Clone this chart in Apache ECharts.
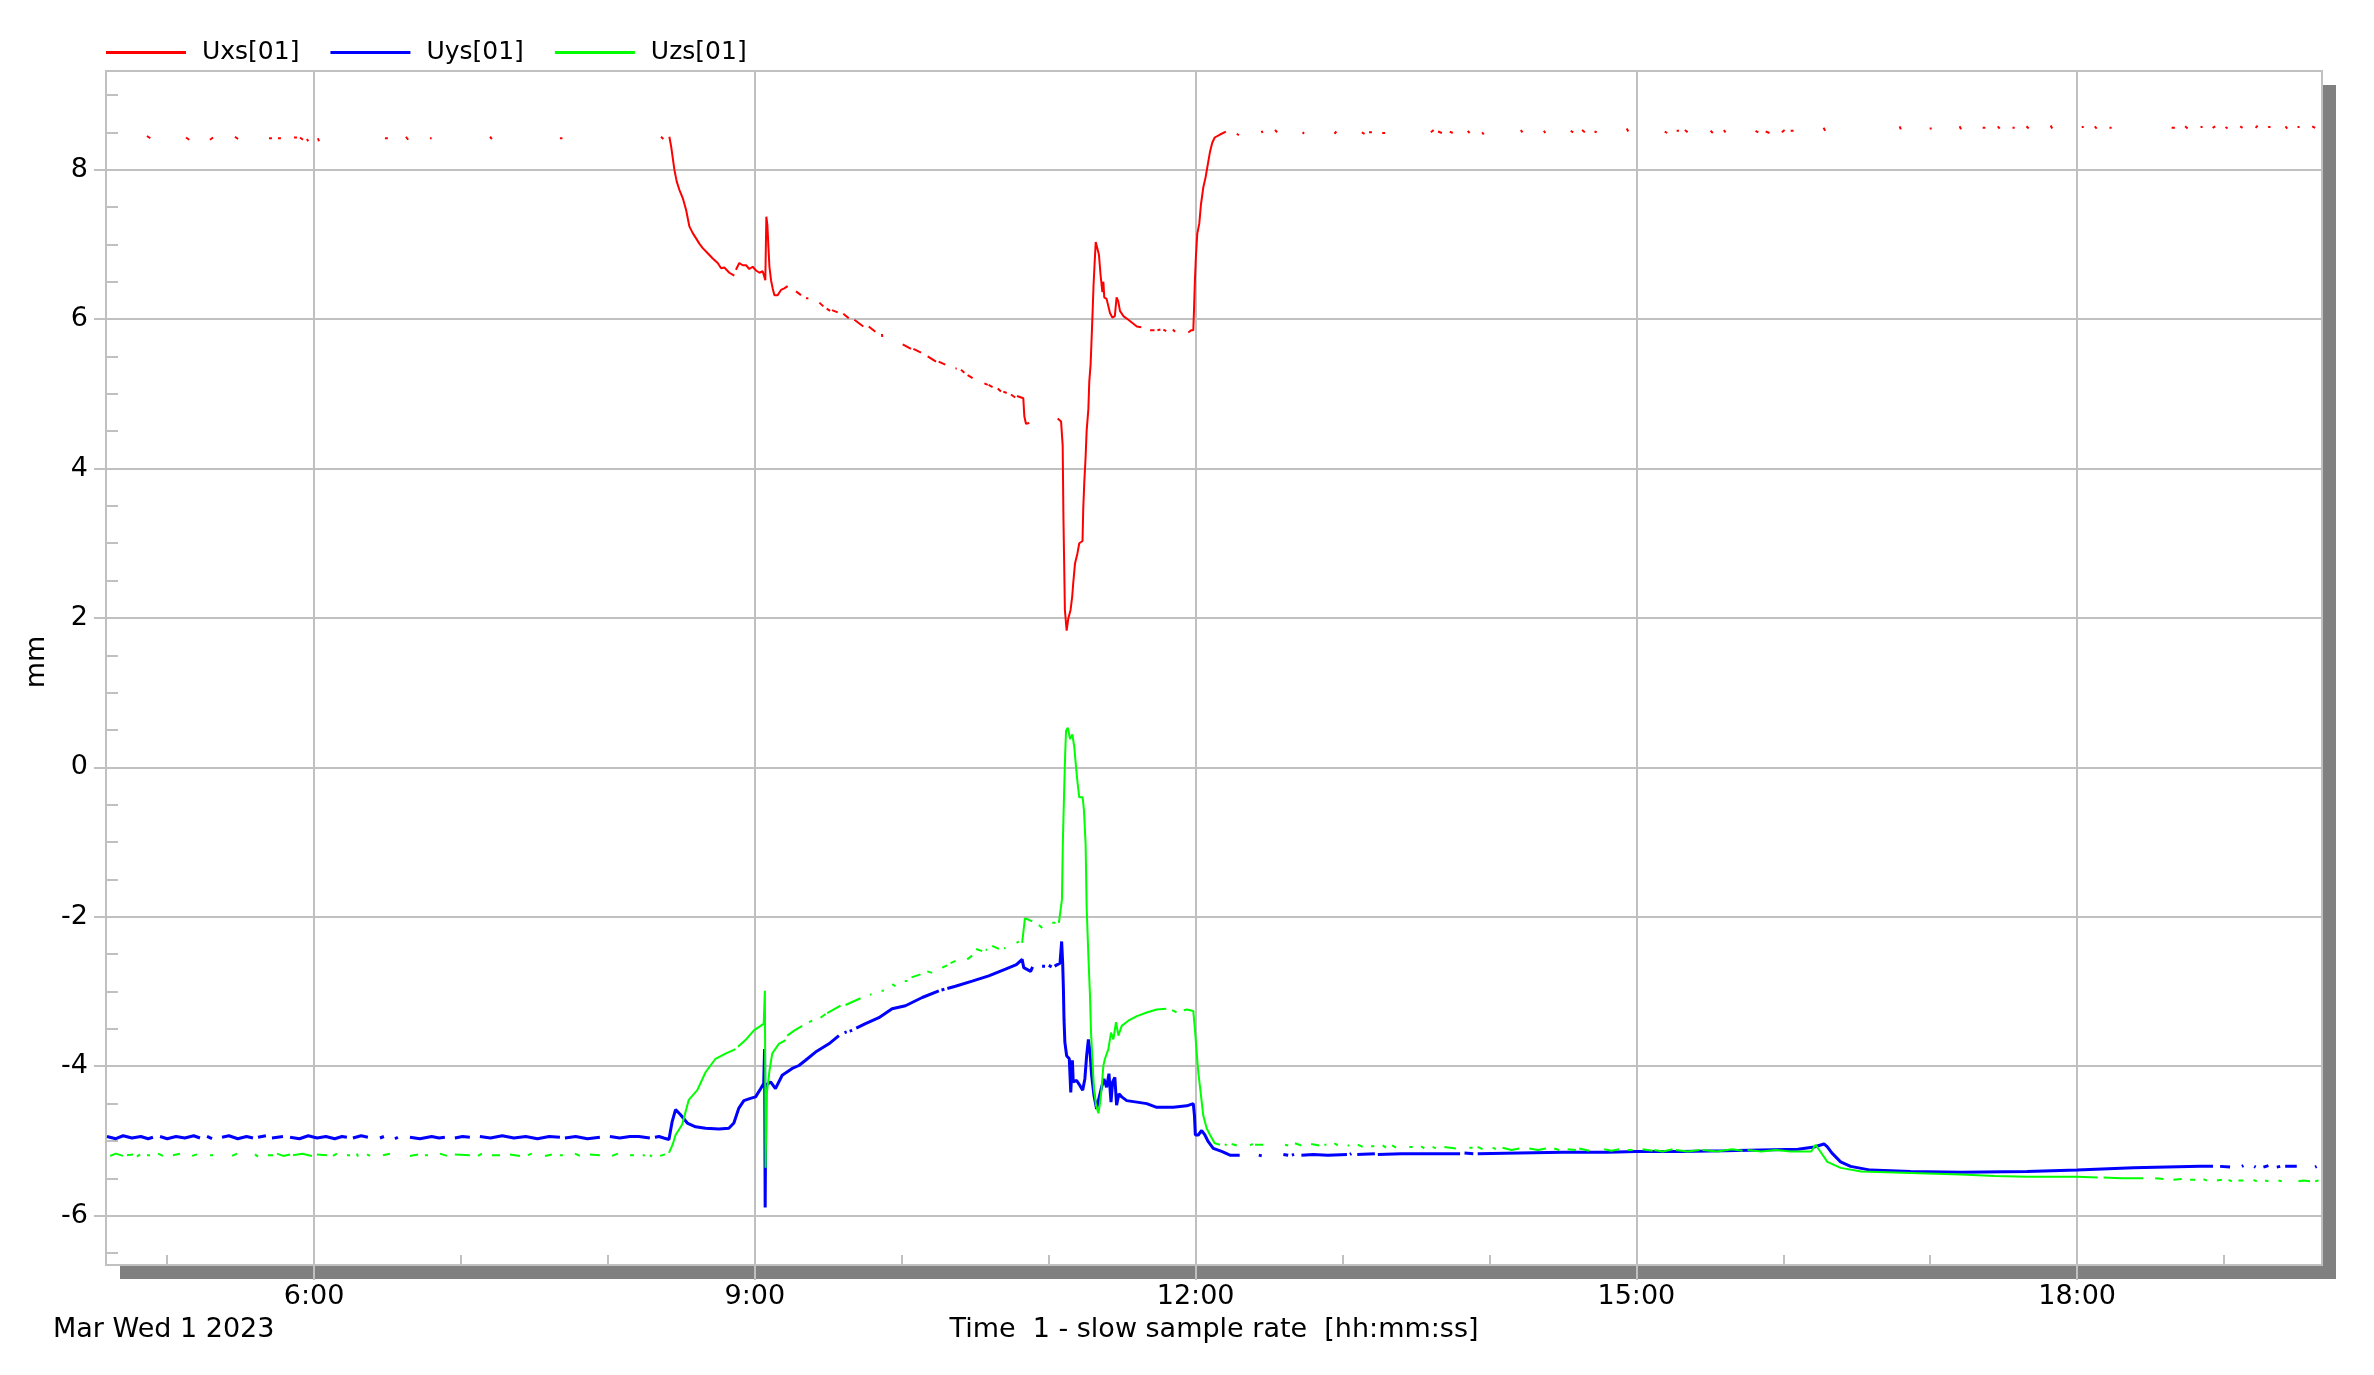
<!DOCTYPE html>
<html>
<head>
<meta charset="utf-8">
<script src="https://cdn.jsdelivr.net/npm/echarts@6.0.0/dist/echarts.min.js"></script>
<style>
html,body{margin:0;padding:0;background:#fff;}
#chart{width:2374px;height:1375px;}
</style>
</head>
<body>
<div id="chart"></div>
<script>
// ---- axis ranges (hours of day / mm) ----
const X_MIN = 4 + 35 / 60;
const X_MAX = 19 + 40 / 60;
const Y_MIN = -6.66;
const Y_MAX = 9.32;

// ---- tick labels ----
const xMajorTicks = [6, 9, 12, 15, 18];
const xMinorTicks = [5, 7, 8, 10, 11, 13, 14, 16, 17, 19];
const yMajorTicks = [-6, -4, -2, 0, 2, 4, 6, 8];
const yMinorTicks = [-6.5, -5.5, -5, -4.5, -3.5, -3, -2.5, -1.5, -1, -0.5, 0.5, 1, 1.5, 2.5, 3, 3.5, 4.5, 5, 5.5, 6.5, 7, 7.5, 8.5, 9];

const seriesNames = ['Uxs[01]', 'Uys[01]', 'Uzs[01]'];
const xTitle = 'Time  1 - slow sample rate  [hh:mm:ss]';
const dateText = 'Mar Wed 1 2023';

// ---- series values: each segment = [time(h), value, time, value, ...]; gaps between segments ----
const uxsSegments = [
  [4.862,8.45, 4.885,8.42],
  [5.128,8.43, 5.150,8.40],
  [5.291,8.40, 5.312,8.43],
  [5.461,8.44, 5.482,8.41],
  [5.693,8.42, 5.713,8.42],
  [5.754,8.42, 5.774,8.42],
  [5.863,8.43, 5.883,8.43],
  [5.904,8.43, 5.924,8.40],
  [5.951,8.41, 5.960,8.38],
  [6.026,8.42, 6.033,8.38],
  [6.482,8.42, 6.502,8.42],
  [6.625,8.44, 6.640,8.40],
  [6.788,8.42, 6.800,8.42],
  [7.197,8.44, 7.210,8.41],
  [7.673,8.42, 7.690,8.42],
  [8.361,8.44, 8.377,8.41],
  [8.418,8.44, 8.430,8.31, 8.452,8.00, 8.468,7.84, 8.486,7.73, 8.509,7.62, 8.532,7.46, 8.554,7.24, 8.577,7.15, 8.600,7.08, 8.622,7.01, 8.645,6.95, 8.679,6.88, 8.713,6.81, 8.747,6.75, 8.770,6.68, 8.792,6.69, 8.826,6.62, 8.860,6.58],
  [8.871,6.66, 8.894,6.75, 8.917,6.72, 8.940,6.72, 8.962,6.67, 8.985,6.70, 9.008,6.65, 9.031,6.62, 9.053,6.64, 9.071,6.52, 9.078,7.37, 9.085,7.26, 9.092,6.97, 9.099,6.70, 9.110,6.52, 9.121,6.41, 9.133,6.32, 9.155,6.32, 9.178,6.39, 9.200,6.41, 9.223,6.44],
  [9.280,6.37, 9.314,6.32],
  [9.348,6.28, 9.364,6.28],
  [9.439,6.22, 9.466,6.17],
  [9.489,6.14, 9.512,6.11],
  [9.525,6.12, 9.564,6.09],
  [9.602,6.07, 9.639,6.01],
  [9.677,5.99, 9.738,5.90],
  [9.775,5.90, 9.820,5.83],
  [9.865,5.80, 9.867,5.76],
  [10.006,5.66, 10.063,5.60],
  [10.079,5.60, 10.131,5.55],
  [10.176,5.50, 10.233,5.43],
  [10.251,5.43, 10.296,5.39],
  [10.365,5.34, 10.374,5.34],
  [10.403,5.32, 10.426,5.28],
  [10.448,5.25, 10.482,5.21],
  [10.562,5.14, 10.585,5.12],
  [10.591,5.12, 10.618,5.09],
  [10.653,5.07, 10.675,5.03],
  [10.691,5.03, 10.714,5.01],
  [10.743,4.99, 10.772,4.95],
  [10.784,4.97, 10.827,4.94, 10.834,4.70, 10.845,4.60, 10.868,4.61],
  [11.061,4.67, 11.084,4.63, 11.095,4.31, 11.100,3.37, 11.110,2.11, 11.122,1.83, 11.133,1.99, 11.149,2.11, 11.160,2.29, 11.167,2.47, 11.179,2.73, 11.195,2.86, 11.208,3.00, 11.230,3.03, 11.235,3.46, 11.242,3.81, 11.251,4.15, 11.258,4.50, 11.270,4.80, 11.276,5.16, 11.285,5.39, 11.292,5.74, 11.299,6.11, 11.305,6.45, 11.312,6.73, 11.320,7.03, 11.333,7.04, 11.342,6.86, 11.353,6.59, 11.365,6.36, 11.372,6.50, 11.378,6.29, 11.394,6.27, 11.417,6.08, 11.433,6.02, 11.450,6.04, 11.462,6.29, 11.473,6.24, 11.485,6.11, 11.508,6.04, 11.542,5.99, 11.600,5.90, 11.630,5.89],
  [11.690,5.85, 11.720,5.85],
  [11.740,5.85, 11.760,5.86],
  [11.780,5.86, 11.800,5.84],
  [11.845,5.86, 11.860,5.83],
  [11.950,5.82, 11.970,5.85, 11.984,5.85, 11.989,6.13, 11.995,6.52, 12.002,6.84, 12.011,7.14, 12.025,7.28, 12.036,7.53, 12.052,7.76, 12.068,7.90, 12.082,8.06, 12.098,8.24, 12.113,8.36, 12.130,8.43, 12.166,8.47, 12.206,8.51],
  [12.280,8.48, 12.295,8.46],
  [12.450,8.52, 12.455,8.49],
  [12.540,8.53, 12.555,8.50],
  [12.728,8.50, 12.738,8.48],
  [12.945,8.48, 12.958,8.51],
  [13.131,8.50, 13.150,8.48],
  [13.180,8.50, 13.200,8.50],
  [13.270,8.49, 13.290,8.49],
  [13.601,8.50, 13.620,8.53],
  [13.650,8.51, 13.676,8.49],
  [13.730,8.51, 13.750,8.49],
  [13.852,8.52, 13.865,8.49],
  [13.950,8.50, 13.961,8.47],
  [14.213,8.53, 14.225,8.50],
  [14.370,8.52, 14.380,8.49],
  [14.553,8.52, 14.570,8.50],
  [14.630,8.53, 14.649,8.50],
  [14.715,8.51, 14.730,8.50],
  [14.934,8.55, 14.945,8.51],
  [15.193,8.51, 15.210,8.49],
  [15.274,8.52, 15.290,8.52],
  [15.330,8.53, 15.349,8.50],
  [15.505,8.52, 15.520,8.49],
  [15.595,8.53, 15.607,8.50],
  [15.811,8.52, 15.830,8.50],
  [15.880,8.51, 15.906,8.49],
  [15.990,8.50, 16.009,8.53],
  [16.050,8.52, 16.070,8.52],
  [16.274,8.56, 16.285,8.52],
  [16.792,8.58, 16.800,8.54],
  [16.996,8.55, 17.010,8.55],
  [17.200,8.58, 17.210,8.54],
  [17.357,8.56, 17.375,8.56],
  [17.460,8.58, 17.473,8.55],
  [17.560,8.56, 17.575,8.56],
  [17.655,8.58, 17.670,8.55],
  [17.820,8.59, 17.830,8.55],
  [18.031,8.57, 18.045,8.57],
  [18.120,8.58, 18.133,8.55],
  [18.220,8.56, 18.235,8.56],
  [18.643,8.56, 18.665,8.56],
  [18.735,8.58, 18.752,8.55],
  [18.840,8.57, 18.854,8.57],
  [18.922,8.56, 18.940,8.58],
  [19.010,8.57, 19.024,8.55],
  [19.110,8.58, 19.126,8.56],
  [19.215,8.56, 19.228,8.59],
  [19.300,8.57, 19.316,8.57],
  [19.418,8.58, 19.430,8.55],
  [19.500,8.57, 19.514,8.57],
  [19.600,8.58, 19.620,8.56]
];

const uysSegments = [
  [4.590,-4.94, 4.650,-4.97, 4.700,-4.93, 4.760,-4.96, 4.820,-4.94, 4.870,-4.97, 4.903,-4.95],
  [4.951,-4.94, 5.000,-4.97, 5.060,-4.94, 5.120,-4.96, 5.180,-4.93, 5.223,-4.96],
  [5.271,-4.94, 5.305,-4.97],
  [5.373,-4.95, 5.420,-4.93, 5.480,-4.97, 5.540,-4.94, 5.584,-4.96],
  [5.618,-4.95, 5.672,-4.93],
  [5.713,-4.96, 5.788,-4.94],
  [5.836,-4.95, 5.900,-4.97, 5.960,-4.93, 6.020,-4.96, 6.080,-4.94, 6.140,-4.97, 6.190,-4.94, 6.223,-4.95],
  [6.264,-4.96, 6.320,-4.93, 6.366,-4.95],
  [6.448,-4.96, 6.475,-4.94],
  [6.550,-4.97, 6.570,-4.95],
  [6.652,-4.95, 6.720,-4.97, 6.800,-4.94, 6.850,-4.96, 6.890,-4.95],
  [6.958,-4.96, 7.010,-4.94, 7.060,-4.95],
  [7.128,-4.94, 7.200,-4.96, 7.280,-4.93, 7.360,-4.96, 7.440,-4.94, 7.520,-4.97, 7.600,-4.94, 7.673,-4.95],
  [7.707,-4.96, 7.780,-4.94, 7.860,-4.97, 7.945,-4.95],
  [8.013,-4.94, 8.080,-4.96, 8.150,-4.94, 8.210,-4.94, 8.285,-4.96],
  [8.320,-4.95, 8.347,-4.94, 8.380,-4.96, 8.415,-4.98, 8.437,-4.74, 8.460,-4.58, 8.494,-4.65, 8.540,-4.76, 8.596,-4.81, 8.664,-4.83, 8.755,-4.84, 8.823,-4.83, 8.857,-4.76, 8.891,-4.56, 8.925,-4.46, 8.970,-4.43, 9.005,-4.41, 9.039,-4.30, 9.060,-4.23, 9.066,-3.77, 9.070,-5.89, 9.075,-4.25, 9.107,-4.21, 9.140,-4.30, 9.186,-4.12, 9.254,-4.03, 9.300,-3.99, 9.345,-3.92, 9.413,-3.81, 9.504,-3.70, 9.572,-3.59],
  [9.610,-3.55, 9.625,-3.54],
  [9.645,-3.53, 9.662,-3.52],
  [9.690,-3.49, 9.753,-3.43, 9.844,-3.35, 9.934,-3.23, 10.025,-3.19, 10.139,-3.08, 10.252,-2.99],
  [10.270,-2.98, 10.290,-2.97],
  [10.310,-2.96, 10.365,-2.93, 10.479,-2.86, 10.592,-2.79, 10.706,-2.70, 10.780,-2.64, 10.819,-2.57, 10.830,-2.68, 10.877,-2.73, 10.890,-2.67],
  [10.955,-2.66, 10.975,-2.66],
  [11.000,-2.65, 11.020,-2.67],
  [11.040,-2.66, 11.077,-2.62, 11.088,-2.33, 11.095,-2.62, 11.100,-2.97, 11.104,-3.37, 11.110,-3.68, 11.122,-3.86, 11.140,-3.90, 11.150,-4.35, 11.161,-3.92, 11.167,-4.21, 11.190,-4.19, 11.213,-4.26, 11.231,-4.32, 11.246,-4.17, 11.258,-3.86, 11.270,-3.64, 11.281,-3.81, 11.292,-4.12, 11.308,-4.39, 11.326,-4.57, 11.344,-4.41, 11.360,-4.28, 11.376,-4.17, 11.394,-4.28, 11.410,-4.10, 11.424,-4.48, 11.435,-4.21, 11.450,-4.15, 11.462,-4.52, 11.478,-4.37, 11.497,-4.41, 11.531,-4.46, 11.600,-4.48, 11.667,-4.50, 11.735,-4.55, 11.848,-4.55, 11.940,-4.53, 11.984,-4.50, 11.992,-4.66, 11.998,-4.92, 12.018,-4.92, 12.041,-4.86, 12.063,-4.92, 12.086,-5.01, 12.120,-5.10, 12.177,-5.14, 12.234,-5.19, 12.300,-5.19],
  [12.430,-5.19, 12.450,-5.20],
  [12.597,-5.18, 12.630,-5.19],
  [12.655,-5.19, 12.670,-5.18],
  [12.720,-5.19, 12.800,-5.18, 12.900,-5.19, 13.030,-5.18],
  [13.050,-5.18, 13.060,-5.17],
  [13.100,-5.18, 13.220,-5.17],
  [13.240,-5.18, 13.400,-5.17, 13.600,-5.17, 13.800,-5.17],
  [13.830,-5.16, 13.890,-5.17],
  [13.920,-5.17, 14.200,-5.16, 14.500,-5.15, 14.800,-5.15, 15.000,-5.14, 15.300,-5.14, 15.600,-5.13, 15.850,-5.12, 16.100,-5.11, 16.210,-5.08, 16.277,-5.04, 16.300,-5.08, 16.330,-5.16, 16.390,-5.28, 16.458,-5.34, 16.594,-5.39, 16.866,-5.41, 17.210,-5.42, 17.660,-5.41, 18.000,-5.39, 18.383,-5.36, 18.837,-5.34, 18.925,-5.34],
  [18.973,-5.34, 19.041,-5.35],
  [19.121,-5.34, 19.132,-5.33],
  [19.205,-5.34, 19.215,-5.35],
  [19.268,-5.35, 19.302,-5.33],
  [19.359,-5.35, 19.382,-5.34],
  [19.416,-5.34, 19.495,-5.34],
  [19.620,-5.35, 19.630,-5.34]
];

const uzsSegments = [
  [4.611,-5.20, 4.650,-5.17, 4.699,-5.20],
  [4.726,-5.19, 4.767,-5.18],
  [4.794,-5.21, 4.815,-5.18],
  [4.862,-5.19, 4.883,-5.19],
  [4.937,-5.17, 4.971,-5.20],
  [5.039,-5.19, 5.087,-5.17],
  [5.169,-5.20, 5.203,-5.18],
  [5.291,-5.19, 5.312,-5.19],
  [5.441,-5.20, 5.475,-5.17],
  [5.597,-5.18, 5.618,-5.21],
  [5.686,-5.19, 5.720,-5.19],
  [5.747,-5.17, 5.790,-5.20, 5.836,-5.18],
  [5.856,-5.19, 5.920,-5.17, 5.985,-5.20],
  [6.019,-5.18, 6.087,-5.19],
  [6.128,-5.20, 6.155,-5.17],
  [6.223,-5.19, 6.244,-5.19],
  [6.291,-5.17, 6.298,-5.21],
  [6.360,-5.18, 6.380,-5.20],
  [6.468,-5.19, 6.516,-5.17],
  [6.652,-5.20, 6.707,-5.18],
  [6.754,-5.19, 6.775,-5.19],
  [6.856,-5.17, 6.904,-5.20],
  [6.958,-5.18, 7.060,-5.19],
  [7.115,-5.20, 7.142,-5.17],
  [7.210,-5.19, 7.265,-5.19],
  [7.333,-5.18, 7.401,-5.20],
  [7.455,-5.19, 7.482,-5.17],
  [7.571,-5.20, 7.618,-5.18],
  [7.673,-5.19, 7.693,-5.19],
  [7.775,-5.17, 7.809,-5.20],
  [7.877,-5.18, 7.945,-5.19],
  [8.027,-5.20, 8.068,-5.17],
  [8.150,-5.19, 8.177,-5.19],
  [8.238,-5.18, 8.250,-5.20],
  [8.285,-5.19, 8.299,-5.21],
  [8.354,-5.20, 8.388,-5.18],
  [8.415,-5.16, 8.440,-5.05, 8.460,-4.92, 8.505,-4.78, 8.550,-4.45, 8.608,-4.32, 8.664,-4.08, 8.732,-3.90, 8.800,-3.83, 8.868,-3.77],
  [8.885,-3.74, 8.936,-3.65, 8.993,-3.52, 9.039,-3.46, 9.060,-3.43, 9.068,-2.99, 9.073,-5.36, 9.080,-4.38, 9.100,-4.05, 9.118,-3.83, 9.163,-3.70, 9.209,-3.65],
  [9.220,-3.59, 9.270,-3.52, 9.322,-3.46],
  [9.368,-3.41, 9.390,-3.39],
  [9.447,-3.35, 9.481,-3.30],
  [9.492,-3.29, 9.583,-3.19],
  [9.617,-3.18, 9.719,-3.09],
  [9.783,-3.04, 9.794,-3.04],
  [9.862,-2.99, 9.878,-2.99],
  [9.935,-2.90, 9.957,-2.93],
  [10.020,-2.86, 10.037,-2.86],
  [10.066,-2.81, 10.127,-2.77],
  [10.173,-2.73, 10.207,-2.75],
  [10.275,-2.68, 10.309,-2.65],
  [10.332,-2.62, 10.366,-2.59],
  [10.445,-2.57, 10.479,-2.52],
  [10.506,-2.43, 10.547,-2.46],
  [10.570,-2.44, 10.581,-2.44],
  [10.615,-2.39, 10.661,-2.43],
  [10.695,-2.42, 10.706,-2.42],
  [10.781,-2.35, 10.797,-2.33],
  [10.819,-2.35, 10.838,-2.02, 10.865,-2.04, 10.888,-2.06],
  [10.933,-2.11, 10.956,-2.15],
  [11.024,-2.08, 11.046,-2.08],
  [11.069,-2.08, 11.082,-2.06, 11.090,-1.77, 11.096,-1.02, 11.105,-0.31, 11.112,0.18, 11.118,0.49, 11.130,0.53, 11.145,0.38, 11.161,0.44, 11.174,0.27, 11.186,0.00, 11.197,-0.22, 11.208,-0.40, 11.231,-0.40, 11.240,-0.58, 11.251,-1.02, 11.258,-1.86, 11.270,-2.53, 11.281,-3.06, 11.288,-3.55, 11.297,-3.90, 11.308,-4.30, 11.322,-4.52, 11.338,-4.63, 11.349,-4.50, 11.360,-4.30, 11.372,-3.99, 11.383,-3.90, 11.406,-3.77, 11.424,-3.55, 11.440,-3.64, 11.458,-3.41, 11.474,-3.59, 11.497,-3.46, 11.542,-3.39, 11.600,-3.33, 11.667,-3.28, 11.735,-3.24, 11.800,-3.23],
  [11.840,-3.25, 11.870,-3.28],
  [11.920,-3.25, 11.940,-3.24, 11.984,-3.26, 11.995,-3.50, 12.007,-3.81, 12.018,-4.08, 12.034,-4.35, 12.052,-4.66, 12.075,-4.83, 12.098,-4.92, 12.130,-5.03, 12.166,-5.05],
  [12.200,-5.06, 12.210,-5.04],
  [12.245,-5.04, 12.280,-5.06],
  [12.370,-5.06, 12.390,-5.04],
  [12.404,-5.05, 12.460,-5.05],
  [12.608,-5.05, 12.630,-5.06],
  [12.676,-5.03, 12.719,-5.06],
  [12.786,-5.04, 12.842,-5.06],
  [12.876,-5.05, 12.890,-5.05],
  [12.944,-5.03, 12.967,-5.06],
  [13.034,-5.06, 13.046,-5.06],
  [13.103,-5.05, 13.137,-5.08],
  [13.194,-5.07, 13.216,-5.07],
  [13.273,-5.06, 13.296,-5.09],
  [13.337,-5.06, 13.364,-5.09],
  [13.454,-5.08, 13.477,-5.08],
  [13.534,-5.07, 13.556,-5.10],
  [13.613,-5.08, 13.636,-5.10],
  [13.693,-5.08, 13.772,-5.10],
  [13.863,-5.09, 13.885,-5.09],
  [13.919,-5.08, 13.953,-5.11],
  [14.021,-5.09, 14.044,-5.11],
  [14.089,-5.09, 14.150,-5.12, 14.203,-5.10],
  [14.271,-5.10, 14.330,-5.12, 14.385,-5.10],
  [14.441,-5.10, 14.475,-5.12],
  [14.532,-5.11, 14.589,-5.12],
  [14.611,-5.10, 14.679,-5.13],
  [14.781,-5.11, 14.830,-5.13, 14.883,-5.11],
  [14.940,-5.12, 14.974,-5.12],
  [15.042,-5.11, 15.110,-5.13],
  [15.122,-5.12, 15.180,-5.14, 15.246,-5.11],
  [15.269,-5.12, 15.350,-5.14, 15.428,-5.12],
  [15.450,-5.12, 15.550,-5.14, 15.650,-5.11, 15.723,-5.13],
  [15.757,-5.12, 15.850,-5.14, 15.950,-5.12, 16.050,-5.14, 16.190,-5.14, 16.220,-5.05, 16.300,-5.28, 16.390,-5.36, 16.530,-5.41, 16.700,-5.42, 16.866,-5.43, 17.040,-5.44, 17.210,-5.45, 17.440,-5.47, 17.660,-5.48, 18.000,-5.48, 18.140,-5.49],
  [18.180,-5.49, 18.300,-5.50, 18.450,-5.50],
  [18.531,-5.50, 18.587,-5.51],
  [18.655,-5.52, 18.712,-5.51],
  [18.769,-5.52, 18.803,-5.52],
  [18.860,-5.51, 18.883,-5.53],
  [18.951,-5.53, 18.985,-5.52],
  [19.030,-5.52, 19.053,-5.54],
  [19.098,-5.53, 19.132,-5.53],
  [19.200,-5.52, 19.223,-5.54],
  [19.279,-5.53, 19.302,-5.54],
  [19.370,-5.53, 19.393,-5.54],
  [19.506,-5.54, 19.540,-5.53, 19.585,-5.54],
  [19.620,-5.54, 19.643,-5.53]
];

const seriesColors = ['#ff0000', '#0000ff', '#00ff00'];
const seriesWidths = [2, 3, 2];

// ---- build line data with gaps between segments ----
function toData(segments) {
  const out = [];
  segments.forEach(function (seg, si) {
    if (si > 0) out.push([seg[0], null]);
    for (let i = 0; i < seg.length; i += 2) out.push([seg[i], seg[i + 1]]);
  });
  return out;
}

const FONT = 'DejaVu Sans';
const GRID_COLOR = '#c0c0c0';
const lineStyleGrid = { color: GRID_COLOR, width: 2 };

const chart = echarts.init(document.getElementById('chart'), null, { renderer: 'canvas' });

const option = {
  animation: false,
  backgroundColor: '#ffffff',
  textStyle: { fontFamily: FONT },
  grid: {
    left: 106, top: 71, right: 52, bottom: 110,
    show: true,
    backgroundColor: '#ffffff',
    borderWidth: 0,
    shadowColor: '#808080',
    shadowBlur: 0,
    shadowOffsetX: 14,
    shadowOffsetY: 14
  },
  legend: {
    data: seriesNames,
    left: 101,
    top: 35,
    icon: 'rect',
    itemWidth: 80,
    itemHeight: 3,
    itemGap: 31,
    textStyle: { fontSize: 25, fontFamily: FONT, color: '#000', padding: [0, 0, 0, 11] }
  },
  graphic: [
    {
      type: 'text',
      left: 53,
      top: 1316,
      style: { text: dateText, fontSize: 27, fontFamily: FONT, fill: '#000' }
    }
  ],
  xAxis: [
    {
      type: 'value', min: X_MIN, max: X_MAX, position: 'bottom',
      axisLine: { show: true, onZero: false, lineStyle: lineStyleGrid },
      axisTick: { show: true, inside: false, length: 15, customValues: xMajorTicks, lineStyle: lineStyleGrid },
      axisLabel: {
        customValues: xMajorTicks,
        formatter: function (v) { return v + ':00'; },
        color: '#000', fontSize: 27, fontFamily: FONT, margin: 18
      },
      splitLine: { show: true, lineStyle: lineStyleGrid },
      name: xTitle,
      nameLocation: 'middle',
      nameGap: 51,
      nameTextStyle: { color: '#000', fontSize: 27, fontFamily: FONT }
    },
    {
      type: 'value', min: X_MIN, max: X_MAX, position: 'bottom',
      axisLine: { show: false, onZero: false },
      axisTick: { show: true, inside: true, length: 10, customValues: xMinorTicks, lineStyle: lineStyleGrid },
      axisLabel: { show: false },
      splitLine: { show: false }
    },
    {
      type: 'value', min: X_MIN, max: X_MAX, position: 'top',
      axisLine: { show: true, onZero: false, lineStyle: lineStyleGrid },
      axisTick: { show: false },
      axisLabel: { show: false },
      splitLine: { show: false }
    }
  ],
  yAxis: [
    {
      type: 'value', min: Y_MIN, max: Y_MAX, position: 'left',
      axisLine: { show: true, onZero: false, lineStyle: lineStyleGrid },
      axisTick: { show: true, inside: false, length: 12, customValues: yMajorTicks, lineStyle: lineStyleGrid },
      axisLabel: { customValues: yMajorTicks, color: '#000', fontSize: 27, fontFamily: FONT, margin: 18 },
      splitLine: { show: true, lineStyle: lineStyleGrid },
      name: 'mm',
      nameLocation: 'middle',
      nameGap: 39,
      nameTextStyle: { color: '#000', fontSize: 27, fontFamily: FONT, padding: [0, 0, 0, 12] }
    },
    {
      type: 'value', min: Y_MIN, max: Y_MAX, position: 'left',
      axisLine: { show: false, onZero: false },
      axisTick: { show: true, inside: true, length: 12, customValues: yMinorTicks, lineStyle: lineStyleGrid },
      axisLabel: { show: false },
      splitLine: { show: false }
    },
    {
      type: 'value', min: Y_MIN, max: Y_MAX, position: 'right',
      axisLine: { show: true, onZero: false, lineStyle: lineStyleGrid },
      axisTick: { show: false },
      axisLabel: { show: false },
      splitLine: { show: false }
    }
  ],
  series: [uxsSegments, uysSegments, uzsSegments].map(function (segs, i) {
    return {
      name: seriesNames[i],
      type: 'line',
      xAxisIndex: 0,
      yAxisIndex: 0,
      data: toData(segs),
      showSymbol: false,
      symbol: 'none',
      connectNulls: false,
      silent: true,
      color: seriesColors[i],
      itemStyle: { color: seriesColors[i] },
      lineStyle: { color: seriesColors[i], width: seriesWidths[i] },
      emphasis: { disabled: true }
    };
  })
};

chart.setOption(option);
</script>
</body>
</html>
